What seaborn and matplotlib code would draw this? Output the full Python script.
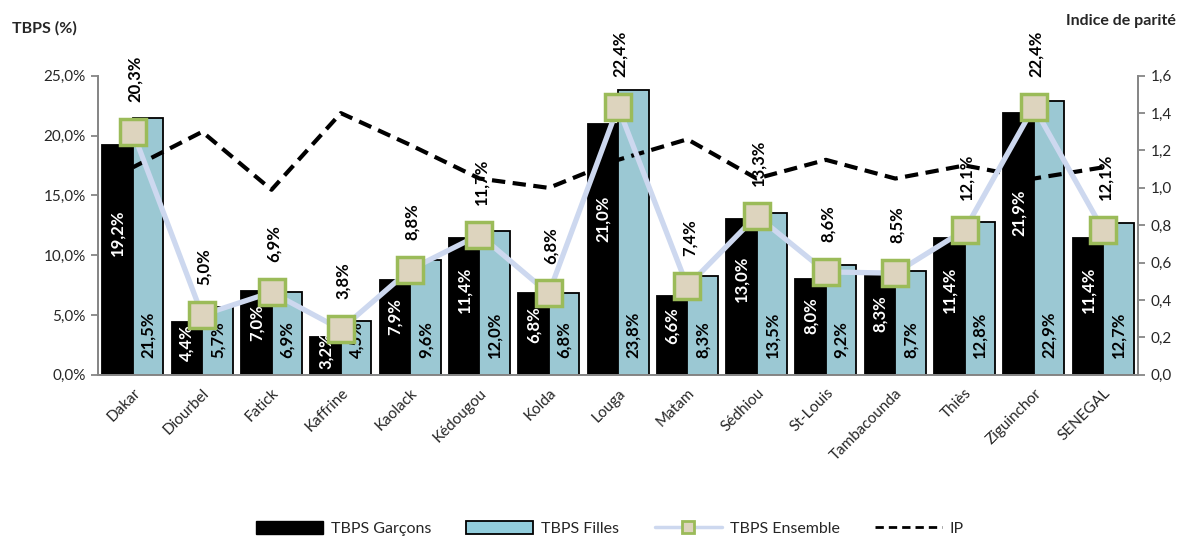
import numpy as np
import pandas as pd
import matplotlib.pyplot as plt
from matplotlib.patches import Patch
from matplotlib.lines import Line2D
import seaborn as sns

# Data
regions = ['Dakar', 'Diourbel', 'Fatick', 'Kaffrine', 'Kaolack', 'Kédougou', 'Kolda',
           'Louga', 'Matam', 'Sédhiou', 'St-Louis', 'Tambacounda', 'Thiès',
           'Ziguinchor', 'SENEGAL']
garcons = [19.2, 4.4, 7.0, 3.2, 7.9, 11.4, 6.8, 21.0, 6.6, 13.0, 8.0, 8.3, 11.4, 21.9, 11.4]
filles = [21.5, 5.7, 6.9, 4.5, 9.6, 12.0, 6.8, 23.8, 8.3, 13.5, 9.2, 8.7, 12.8, 22.9, 12.7]
ensemble = [20.3, 5.0, 6.9, 3.8, 8.8, 11.7, 6.8, 22.4, 7.4, 13.3, 8.6, 8.5, 12.1, 22.4, 12.1]
ip = [1.11, 1.30, 0.99, 1.40, 1.23, 1.05, 1.00, 1.15, 1.26, 1.05, 1.15, 1.05, 1.12, 1.05, 1.11]

BLUE = '#92cddc'
LINE_COL = '#cdd8ef'
MARK_FACE = '#ddd4be'
MARK_EDGE = '#9bbb59'
AXIS_COL = '#868686'


def fmt(v, dec=1, pct=True):
    s = f'{v:.{dec}f}'.replace('.', ',')
    return s + '%' if pct else s


def main():
    sns.set_style('white')
    plt.rcParams['font.family'] = ['Lato', 'DejaVu Sans']

    n = len(regions)
    pos = np.arange(n)
    df = pd.DataFrame({
        'region': regions * 2,
        'value': garcons + filles,
        'serie': ['TBPS Garçons'] * n + ['TBPS Filles'] * n,
    })

    fig, ax = plt.subplots(figsize=(11.84, 5.37), dpi=100)
    fig.subplots_adjust(left=0.083, right=0.961, top=0.859, bottom=0.302)

    sns.barplot(data=df, x='region', y='value', hue='serie', order=regions,
                palette=['black', BLUE], edgecolor='black', linewidth=1.3,
                width=0.88, gap=0, legend=False, ax=ax)
    ax.set_xlim(-0.5, n - 0.5)
    ax.set_ylim(0, 25)
    ax.set_yticks(np.arange(0, 26, 5))
    ax.set_yticklabels([fmt(v) for v in np.arange(0, 26, 5)], fontsize=11)
    ax.set_xlabel('')
    ax.set_ylabel('')
    ax.set_xticks(pos)
    ax.set_xticklabels(regions, rotation=45, ha='right', rotation_mode='anchor', fontsize=11)
    ax.set_xticks(np.arange(-0.5, n), minor=True)
    ax.tick_params(axis='x', which='major', length=0, pad=8)
    ax.tick_params(axis='x', which='minor', length=6, width=1.3, color=AXIS_COL, direction='out')
    ax.tick_params(axis='y', length=5, width=1.3, color=AXIS_COL, direction='out', pad=4)

    # IP on the right axis
    ax2 = ax.twinx()
    sns.lineplot(x=pos, y=ip, ax=ax2, color='black', lw=3)
    ax2.lines[0].set_dashes([3.2, 1.8])
    ax2.set_ylim(0, 1.6)
    ticks2 = np.arange(0, 1.61, 0.2)
    ax2.set_yticks(ticks2)
    ax2.set_yticklabels([fmt(v, pct=False) for v in ticks2], fontsize=11)
    ax2.tick_params(axis='y', length=5, width=1.3, color=AXIS_COL, direction='out', pad=4)
    ax2.set_ylabel('')

    # overlay axis for the ensemble line and labels
    ax3 = ax.twinx()
    ax3.set_ylim(0, 25)
    sns.lineplot(x=pos, y=ensemble, ax=ax3, color=LINE_COL, lw=3.8, marker='s',
                 markersize=19, markerfacecolor=MARK_FACE, markeredgecolor=MARK_EDGE,
                 markeredgewidth=2.5, zorder=5)
    ax3.set_yticks([])
    ax3.set_ylabel('')
    for sp in ax3.spines.values():
        sp.set_visible(False)

    for a in (ax, ax2):
        a.spines['top'].set_visible(False)
        for side in ('left', 'right', 'bottom'):
            a.spines[side].set_color(AXIS_COL)
            a.spines[side].set_linewidth(1.3)

    for i in range(n):
        ax3.text(i - 0.22, garcons[i] * 0.62, fmt(garcons[i]), rotation=90, ha='center',
                 va='center', color='white', fontsize=12, fontweight='bold', zorder=3)
        ax3.text(i + 0.22, 1.4, fmt(filles[i]), rotation=90, ha='center', va='bottom',
                 color='black', fontsize=12, fontweight='bold', zorder=3)
        ax3.text(i + 0.03, ensemble[i] + 2.5, fmt(ensemble[i]), rotation=90, ha='center',
                 va='bottom', color='black', fontsize=12, fontweight='bold', zorder=6)

    fig.text(0.010, 1 - 28 / 537, 'TBPS (%)', fontsize=11.5, fontweight='bold',
             ha='left', va='center')
    fig.text(0.993, 1 - 21 / 537, 'Indice de parité', fontsize=11.5, fontweight='bold',
             ha='right', va='center')

    handles = [
        Patch(facecolor='black', edgecolor='black', label='TBPS Garçons'),
        Patch(facecolor=BLUE, edgecolor='black', linewidth=1.3, label='TBPS Filles'),
        Line2D([], [], color=LINE_COL, lw=2.5, marker='s', markersize=9,
               markerfacecolor=MARK_FACE, markeredgecolor=MARK_EDGE, markeredgewidth=2,
               label='TBPS Ensemble'),
        Line2D([], [], color='black', lw=2, dashes=[3, 1.8], label='IP'),
    ]
    fig.legend(handles=handles, loc='lower center', bbox_to_anchor=(0.515, -0.025),
               ncol=4, frameon=False, fontsize=11.5, handlelength=4.2, handleheight=0.9,
               columnspacing=2.2, handletextpad=0.5)

    fig.savefig('out.png', dpi=100)


if __name__ == '__main__':
    main()
